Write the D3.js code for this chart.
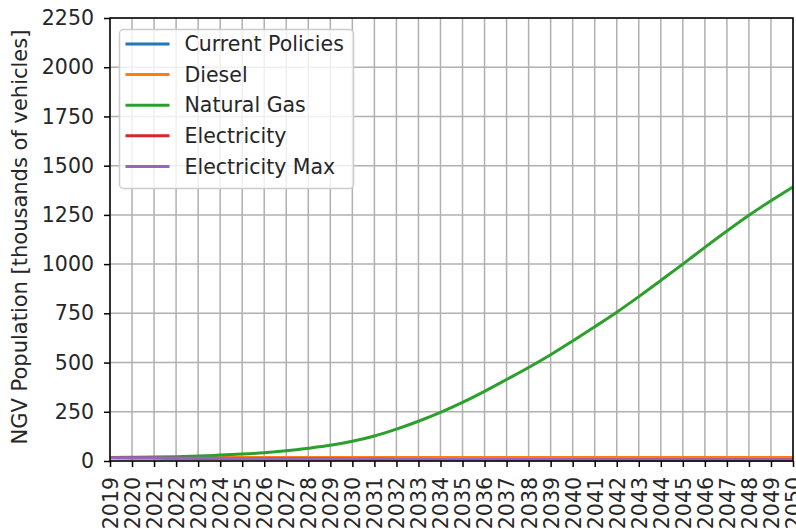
<!DOCTYPE html>
<html>
<head>
<meta charset="utf-8">
<script src="https://cdn.jsdelivr.net/npm/d3@7"></script>
<style>
  body { margin: 0; background: #fff; }
  text { font-family: "DejaVu Sans", sans-serif; fill: #262626; }
</style>
</head>
<body>
<svg id="chart"></svg>
<script>
var years = [2019, 2020, 2021, 2022, 2023, 2024, 2025, 2026, 2027, 2028, 2029, 2030,
             2031, 2032, 2033, 2034, 2035, 2036, 2037, 2038, 2039, 2040, 2041, 2042,
             2043, 2044, 2045, 2046, 2047, 2048, 2049, 2050];

var currentPolicies = [18, 18, 18, 18, 18, 18, 18, 18, 18, 18, 18, 18, 18, 18, 18, 18,
                       18, 18, 18, 18, 18, 18, 18, 18, 18, 18, 18, 18, 18, 18, 18, 18];
var diesel = [18, 18, 18, 18, 18, 18, 18, 18, 18, 18, 18, 18, 18, 18, 18, 18,
              18, 18, 18, 18, 18, 18, 18, 18, 18, 18, 18, 18, 18, 18, 18, 18];
var naturalGas = [18, 19, 20, 22, 25, 30, 35, 42, 52, 65, 80, 100, 127, 162, 202, 247,
                  298, 354, 414, 475, 540, 610, 682, 756, 835, 917, 1000, 1085, 1168, 1248, 1322, 1392];
var electricity = [16, 15, 15, 14, 13, 13, 12, 11, 11, 10, 10, 9, 9, 8, 8, 7,
                   7, 7, 6, 6, 6, 6, 5, 5, 5, 5, 5, 5, 5, 5, 5, 5];
var electricityMax = [17, 16, 16, 15, 14, 14, 13, 12, 12, 11, 11, 10, 10, 9, 9, 8,
                      8, 8, 7, 7, 7, 7, 6, 6, 6, 6, 6, 6, 6, 6, 6, 6];

var seriesNames = ["Current Policies", "Diesel", "Natural Gas", "Electricity", "Electricity Max"];
var seriesValues = [currentPolicies, diesel, naturalGas, electricity, electricityMax];
var colors = ["#1f77b4", "#ff7f0e", "#2ca02c", "#d62728", "#9467bd"];
var yTicks = [0, 250, 500, 750, 1000, 1250, 1500, 1750, 2000, 2250];

var width = 796, height = 529;
var pLeft = 110, pRight = 793, pTop = 18, pBottom = 461;
var fontSize = "20.5px";

var svg = d3.select('#chart').attr("width", width).attr("height", height);

var xScale = d3.scaleLinear().domain([2019, 2050]).range([pLeft, pRight]);
var yScale = d3.scaleLinear().domain([0, 2250]).range([pBottom, pTop]);

// grid
svg.append("g").selectAll("line").data(years).enter().append("line")
   .attr("x1", function(d) { return xScale(d); })
   .attr("x2", function(d) { return xScale(d); })
   .attr("y1", pTop).attr("y2", pBottom)
   .attr("stroke", "#b0b0b0").attr("stroke-width", 1.5);
svg.append("g").selectAll("line").data(yTicks).enter().append("line")
   .attr("x1", pLeft).attr("x2", pRight)
   .attr("y1", function(d) { return yScale(d); })
   .attr("y2", function(d) { return yScale(d); })
   .attr("stroke", "#b0b0b0").attr("stroke-width", 1.5);

// lines
var line = d3.line()
  .x(function(d, i) { return xScale(years[i]); })
  .y(function(d) { return yScale(d); })
  .curve(d3.curveMonotoneX);

seriesValues.forEach(function(vals, i) {
  svg.append("path")
     .attr("d", line(vals))
     .attr("fill", "none")
     .attr("stroke", colors[i])
     .attr("stroke-width", 3);
});

// axes
var xAxis = d3.axisBottom(xScale).tickValues(years).tickFormat(d3.format("d"))
              .tickSize(6).tickSizeOuter(0);
var gx = svg.append("g").attr("transform", "translate(0," + pBottom + ")").call(xAxis);
gx.select(".domain").remove();
gx.selectAll("line").attr("stroke", "#000").attr("stroke-width", 1.5);
gx.selectAll("text")
  .attr("transform", "rotate(-90)")
  .attr("x", -16).attr("y", 0).attr("dy", "0.36em")
  .style("text-anchor", "end")
  .style("font-size", fontSize)
  .style("font-family", "DejaVu Sans")
  .style("fill", "#262626");

var yAxis = d3.axisLeft(yScale).tickValues(yTicks).tickFormat(d3.format("d"))
              .tickSize(6).tickSizeOuter(0);
var gy = svg.append("g").attr("transform", "translate(" + pLeft + ",0)").call(yAxis);
gy.select(".domain").remove();
gy.selectAll("line").attr("stroke", "#000").attr("stroke-width", 1.5);
gy.selectAll("text").attr("x", -16)
  .style("font-size", fontSize)
  .style("font-family", "DejaVu Sans")
  .style("fill", "#262626");

// frame
svg.append("rect")
   .attr("x", pLeft).attr("y", pTop)
   .attr("width", pRight - pLeft).attr("height", pBottom - pTop)
   .attr("fill", "none").attr("stroke", "#000").attr("stroke-width", 1.5);

// y label
svg.append("text")
   .attr("transform", "translate(27,237) rotate(-90)")
   .attr("text-anchor", "middle")
   .style("font-size", "21px")
   .text("NGV Population [thousands of vehicles]");

// legend
var legend = svg.append("g").attr("transform", "translate(119.5,29.5)");
legend.append("rect")
      .attr("width", 234).attr("height", 159).attr("rx", 4)
      .attr("fill", "#fff").attr("fill-opacity", 0.8)
      .attr("stroke", "#cccccc").attr("stroke-width", 1.5);
seriesNames.forEach(function(name, i) {
  var yy = 14.5 + i * 30.6;
  legend.append("line")
        .attr("x1", 6).attr("x2", 50).attr("y1", yy).attr("y2", yy)
        .attr("stroke", colors[i]).attr("stroke-width", 3);
  legend.append("text")
        .attr("x", 65).attr("y", yy).attr("dy", "0.35em")
        .style("font-size", fontSize)
        .text(name);
});
</script>
</body>
</html>
